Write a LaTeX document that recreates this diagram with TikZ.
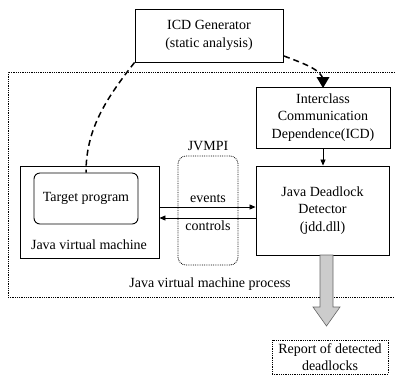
\documentclass[tikz,border=0pt]{standalone}
\usepackage{fontspec}
\setmainfont{Liberation Serif}
\usetikzlibrary{arrows.meta}
\begin{document}
\begin{tikzpicture}[x=1pt,y=-1pt,
  every node/.style={font=\fontsize{14}{17.5}\selectfont, inner sep=0pt},
  box/.style={draw, line width=0.9pt, align=center},
  rbox/.style={box, rounded corners=6pt},
  dotbox/.style={draw, densely dotted, line width=0.8pt, align=center},
  flow/.style={-{Triangle[length=6pt,width=5pt]}, line width=0.8pt},
  dashflow/.style={line width=1.5pt, dash pattern=on 6pt off 4pt}
]
\useasboundingbox (0,0) rectangle (395,376);

% JVM process boundary (open on the right)
\draw[densely dotted, line width=0.8pt] (395,72) -- (8,72) -- (8,297) -- (395,297);
\node (proc) at (210,284) {Java virtual machine process};

% static analysis
\node[box, minimum width=148pt, minimum height=53pt] (gen) at (209,35.5)
  {ICD Generator\\(static analysis)};
\node[box, minimum width=134pt, minimum height=61pt] (icd) at (323,117.5)
  {Interclass\\Communication\\Dependence(ICD)};

% runtime components
\node[box, minimum width=133pt, minimum height=89pt] (det) at (322.5,210.5)
  {Java Deadlock\\Detector\\(jdd.dll)};
\node[box, minimum width=139pt, minimum height=92pt] (jvm) at (89.5,212) {};
\node[rbox, minimum width=104pt, minimum height=51pt] (tgt) at (86,198.5) {Target program};
\node (jvmlabel) at (89,245) {Java virtual machine};
\node[dotbox, rounded corners=8pt, minimum width=60pt, minimum height=109pt] (jvmpi) at (208,210.5) {};
\node[anchor=south] (jvmpilabel) at (208,151) {JVMPI};

% events / controls
\coordinate (ev) at (0,207);
\coordinate (ct) at (0,218);
\draw[flow] (jvm.east |- ev) -- (det.west |- ev);
\draw[flow] (det.west |- ct) -- (jvm.east |- ct);
\node[anchor=south] (evlabel) at (208,203) {events};
\node[anchor=north] (ctlabel) at (208,221) {controls};

% ICD feeds the detector
\draw[flow] (icd.south) -- (det.north -| icd.south);

% dashed links from the generator
\coordinate (genout) at (284,56);
\draw[dashflow] (gen.south west) .. controls (105,100) and (86,130) .. (tgt.north);
\draw[dashflow] (genout) .. controls (305,64) and (322,70) .. (323,80);
\fill (316.5,77) -- (329.5,77) -- (323,88) -- cycle;

% report output
\node[dotbox, minimum width=116pt, minimum height=34pt] (rep) at (330,357)
  {Report of detected\\deadlocks};
\draw[fill=gray!40, draw=gray!80!black, line width=0.6pt]
  (320,255) -- (333,255) -- (333,307) -- (340,307) -- (326.5,326)
  -- (313,307) -- (320,307) -- cycle;
\end{tikzpicture}
\end{document}
